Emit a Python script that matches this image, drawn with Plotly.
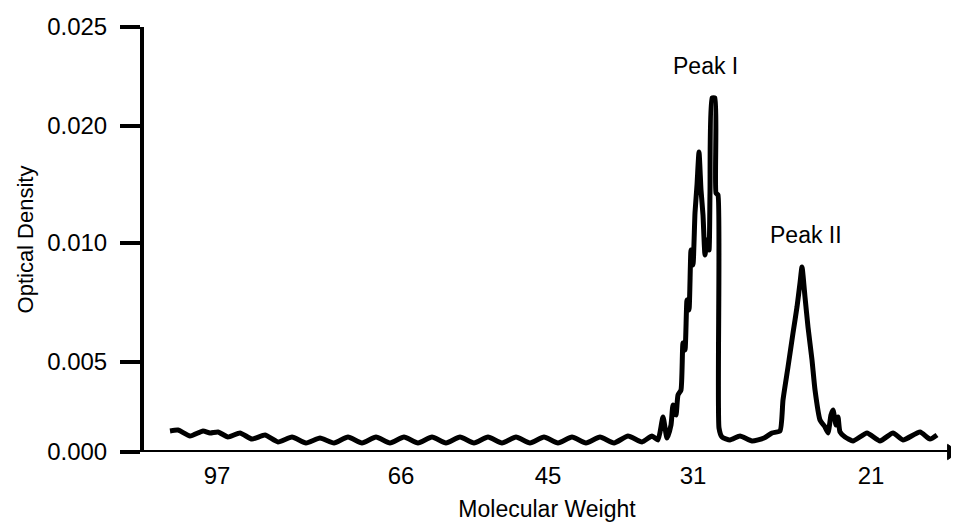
import plotly.graph_objects as go

# Densitometer scan: migration distance (arbitrary units) vs optical density
migration = [2.8, 3.6, 4.8, 6.1, 6.8, 7.6, 8.6, 9.8, 11.0, 12.3, 13.6, 15.0, 16.4, 17.8, 19.2,
             20.6, 22.0, 23.4, 24.8, 26.2, 27.6, 29.0, 30.4, 31.8, 33.2, 34.6, 36.0, 37.4,
             38.8, 40.2, 41.6, 43.0, 44.4, 45.8, 47.2, 48.6, 50.0, 51.0, 51.6, 52.1, 52.5,
             52.9, 53.1, 53.4, 53.6, 53.9, 54.1, 54.3, 54.5, 54.7, 54.9, 55.1, 55.3, 55.5,
             55.7, 55.9, 56.1, 56.3, 56.5, 56.7, 56.8, 57.0, 57.3, 57.4, 57.6, 57.7, 58.0,
             58.8, 59.8, 61.0, 62.2, 63.0, 63.8, 64.1, 64.6, 65.1, 65.5, 65.8, 66.0, 66.3,
             66.6, 67.0, 67.3, 67.8, 68.3, 68.6, 68.9, 69.1, 69.4, 69.6, 69.8, 70.3, 71.1,
             72.5, 73.8, 75.1, 76.1, 77.8, 78.8, 79.5]
optical_density = [0.00124, 0.00129, 0.00094, 0.00124, 0.00112, 0.00118, 0.00088, 0.00112,
                   0.00076, 0.00100, 0.00059, 0.00088, 0.00053, 0.00082, 0.00053, 0.00088,
                   0.00053, 0.00088, 0.00053, 0.00088, 0.00053, 0.00088, 0.00053, 0.00088,
                   0.00053, 0.00088, 0.00053, 0.00088, 0.00053, 0.00088, 0.00053, 0.00088,
                   0.00053, 0.00088, 0.00053, 0.00094, 0.00059, 0.00094, 0.00071, 0.00206,
                   0.00082, 0.00159, 0.00276, 0.00218, 0.00335, 0.00365, 0.00641, 0.00600,
                   0.00894, 0.00835, 0.01188, 0.01100, 0.01406, 0.01571, 0.01765, 0.01541,
                   0.01394, 0.01159, 0.01247, 0.01188, 0.01524, 0.02082, 0.02082, 0.01524,
                   0.01512, 0.00141, 0.00088, 0.00071, 0.00094, 0.00065, 0.00082, 0.00112,
                   0.00124, 0.00306, 0.00500, 0.00700, 0.00853, 0.00994, 0.01088, 0.00912,
                   0.00735, 0.00541, 0.00365, 0.00188, 0.00147, 0.00112, 0.00218, 0.00247,
                   0.00159, 0.00206, 0.00118, 0.00088, 0.00065, 0.00112, 0.00065, 0.00112,
                   0.00071, 0.00118, 0.00076, 0.00100]

# Molecular weight markers (kDa) and their migration positions
mw_positions = [7.5, 25.9, 40.6, 55.1, 72.9]
mw_labels = ["97", "66", "45", "31", "21"]

# Y axis ticks as printed on the original (hand-drawn, unevenly spaced) axis
od_tick_positions = [0.0, 0.005294, 0.012294, 0.019176, 0.025]
od_tick_labels = ["0.000", "0.005", "0.010", "0.020", "0.025"]

peak_names = ["Peak I", "Peak II"]
peak_x = [56.3, 66.4]
peak_y = [0.02271, 0.01276]

FONT = "Liberation Sans, Arial, sans-serif"

fig = go.Figure()
fig.add_trace(go.Scatter(
    x=migration, y=optical_density, mode="lines",
    line=dict(color="black", width=5, shape="spline", smoothing=0.5),
    hoverinfo="skip", showlegend=False,
))

for name, px, py in zip(peak_names, peak_x, peak_y):
    fig.add_annotation(x=px, y=py, text=name, showarrow=False,
                       font=dict(family=FONT, size=23, color="black"))

# x axis line extending left past the y axis, with an arrow head
fig.add_shape(type="line", xref="paper", yref="y", x0=-0.0273, x1=1.002, y0=0, y1=0,
              line=dict(color="black", width=4))
fig.add_shape(type="path", xref="paper", yref="paper",
              path="M 0.997 0.018 L 1.0112 0 L 0.997 -0.018 Z",
              fillcolor="black", line=dict(color="black", width=1))

fig.update_layout(
    width=951, height=517,
    margin=dict(l=136, r=9, t=19, b=73),
    paper_bgcolor="white", plot_bgcolor="white",
    font=dict(family=FONT, color="black"),
    xaxis=dict(
        automargin=False,
        range=[0.2, 80.8], showgrid=False, zeroline=False, showline=False,
        tickmode="array", tickvals=mw_positions, ticktext=mw_labels,
        ticks="", ticklabelstandoff=7,
        tickfont=dict(family=FONT, size=24, color="black"),
        title=dict(text="Molecular Weight", font=dict(family=FONT, size=23, color="black"),
                   standoff=12),
    ),
    yaxis=dict(
        automargin=False,
        range=[0, 0.025], showgrid=False, zeroline=False,
        showline=True, linewidth=4, linecolor="black",
        tickmode="array", tickvals=od_tick_positions, ticktext=od_tick_labels,
        ticks="outside", ticklen=20, tickwidth=4, tickcolor="black",
        ticklabelstandoff=8,
        tickfont=dict(family=FONT, size=24, color="black"),
        title=dict(text="Optical Density", font=dict(family=FONT, size=22, color="black"),
                   standoff=8),
    ),
)

fig.write_html("out.html")
